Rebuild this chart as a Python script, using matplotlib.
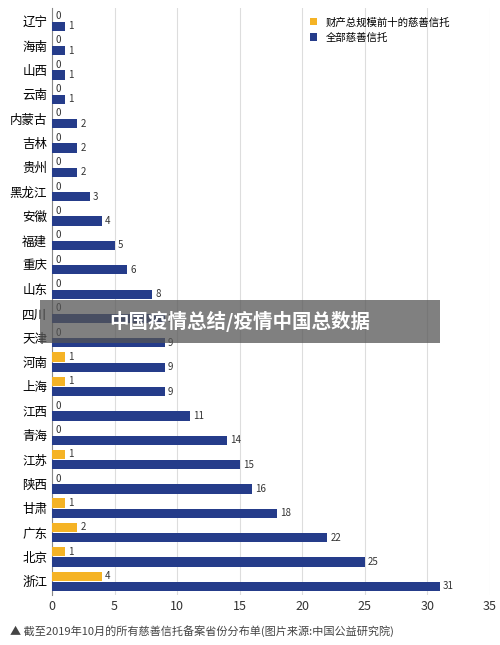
import matplotlib
matplotlib.use("Agg")
import matplotlib.pyplot as plt
from matplotlib.patches import Rectangle
import numpy as np

plt.rcParams['font.family'] = ['Noto Sans CJK SC', 'DejaVu Sans']

provinces = ["辽宁","海南","山西","云南","内蒙古","吉林","贵州","黑龙江","安徽","福建","重庆","山东","四川","天津","河南","上海","江西","青海","江苏","陕西","甘肃","广东","北京","浙江"]
top10 = [0,0,0,0,0,0,0,0,0,0,0,0,0,0,1,1,0,0,1,0,1,2,1,4]
allc = [1,1,1,1,2,2,2,3,4,5,6,8,9,9,9,9,11,14,15,16,18,22,25,31]

fig = plt.figure(figsize=(5,6.45), dpi=100)
ax = fig.add_axes([0.104, 0.078, 0.876, 0.91])
n = len(provinces)
y = np.arange(n)
h = 0.38
orange = "#F5B325"; blue = "#253C8A"
ax.barh(y - h/2 - 0.02, top10, height=h, color=orange, label="财产总规模前十的慈善信托", zorder=3)
ax.barh(y + h/2 + 0.02, allc, height=h, color=blue, label="全部慈善信托", zorder=3)
for i in range(n):
    ax.text(top10[i] + 0.25, y[i] - h/2 - 0.02, str(top10[i]), va='center', fontsize=7, color="#333333")
    ax.text(allc[i] + 0.25, y[i] + h/2 + 0.02, str(allc[i]), va='center', fontsize=7, color="#333333")
ax.set_yticks(y)
ax.set_yticklabels(provinces, fontsize=9)
ax.set_ylim(n - 0.45, -0.55)
ax.set_xlim(0, 35)
ax.set_xticks(range(0, 36, 5))
ax.tick_params(axis='x', labelsize=9, colors="#333333", length=0)
ax.tick_params(axis='y', length=0)
ax.grid(axis='x', color="#dddddd", lw=0.8, zorder=0)
for s in ["top","right","bottom"]:
    ax.spines[s].set_visible(False)
ax.spines["left"].set_color("#888888")
ax.legend(loc="upper right", bbox_to_anchor=(0.93, 1.0), fontsize=7.5, frameon=False, handlelength=0.7, handleheight=0.7)

fig.patches.append(Rectangle((40/500, 1-343/645), 400/500, 43/645, transform=fig.transFigure,
                             fc='#555555', ec='none', alpha=0.75, zorder=10))
fig.text(240/500, 1-321/645, "中国疫情总结/疫情中国总数据", ha='center', va='center', fontsize=14,
         color='white', fontweight='bold', zorder=11)
fig.text(0.02, 0.022, "▲ 截至2019年10月的所有慈善信托备案省份分布单(图片来源:中国公益研究院)",
         fontsize=8, color="#444444", va='center')
fig.savefig("out.png", dpi=100)
